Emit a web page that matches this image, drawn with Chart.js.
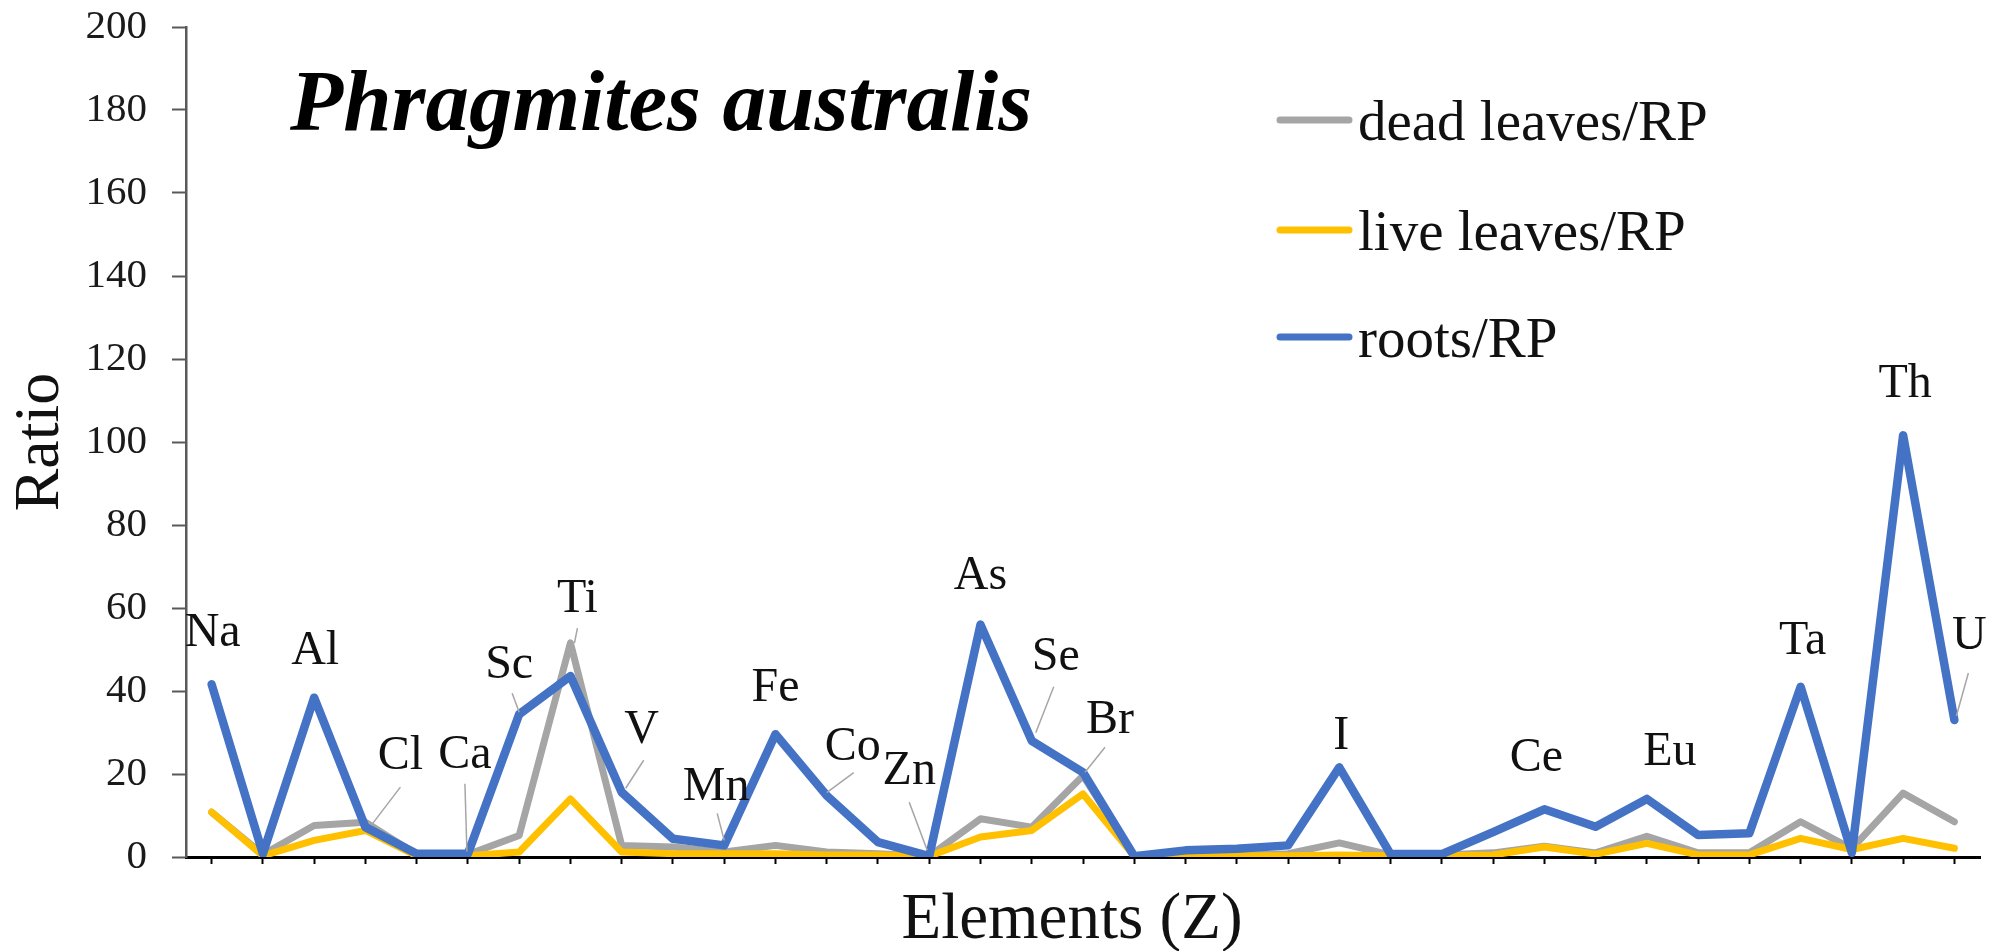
<!DOCTYPE html>
<html>
<head>
<meta charset="utf-8">
<script src="https://cdn.jsdelivr.net/npm/chart.js@4.4.1/dist/chart.umd.min.js"></script>
<style>
  html, body { margin: 0; padding: 0; background: #ffffff; }
  #wrap { width: 2010px; height: 951px; position: relative; }
</style>
</head>
<body>
<div id="wrap"><canvas id="c" width="2010" height="951"></canvas></div>
<script>
// Elements along the x axis (only the named ones carry a label)
const elements = ['Na','','Al','Cl','','Ca','Sc','Ti','V','','Mn','Fe','Co','','Zn','As','Se','Br','','','','','I','','','','Ce','','Eu','','','Ta','','Th','U'];

// Concentration ratios relative to the reference plant (RP)
const deadLeaves = [10.8,0.6,7.6,8.4,0.6,0.6,5.2,51.6,2.8,2.4,1.2,2.8,1.2,0.8,0.2,9.2,7.2,19.6,0.2,0.5,0.5,0.8,3.4,0.5,0.5,1.0,2.6,1.0,5.0,1.0,1.0,8.5,2.0,15.4,8.5];
const liveLeaves = [10.8,0.3,4.0,6.4,0.3,0.3,1.2,14.0,1.2,0.8,0.8,0.8,0.5,0.5,0.2,4.8,6.4,15.2,0.2,0.3,0.3,0.3,0.5,0.3,0.3,0.5,2.4,0.7,3.3,0.5,0.5,4.5,1.8,4.5,2.1];
const roots      = [41.6,0.8,38.4,7.2,0.8,0.8,34.4,43.6,15.6,4.4,2.8,29.6,14.8,3.6,0.2,56.0,28.0,20.4,0.2,1.6,2.0,2.8,21.6,0.7,0.7,6.0,11.5,7.3,14.0,5.3,5.7,41.0,1.0,101.6,33.0];

const seriesNames = ['dead leaves/RP', 'live leaves/RP', 'roots/RP'];
const yTicks = [0, 20, 40, 60, 80, 100, 120, 140, 160, 180, 200];
const chartTitle = 'Phragmites australis';
const xTitle = 'Elements (Z)';
const yTitle = 'Ratio';

const colors = { dead: '#a5a5a5', live: '#ffc000', roots: '#4472c4' };
const serif = '"Liberation Serif", "Times New Roman", serif';

// Label placement relative to the roots point: centre offset and optional leader line
const labelLayout = {
  Na: { dx: 1,  dy: -54 },
  Al: { dx: 1,  dy: -50 },
  Cl: { dx: 35, dy: -74, leader: [35, -40, 6, -2] },
  Ca: { dx: -3, dy: -102, leader: [-3, -70, -1, -2] },
  Sc: { dx: -10, dy: -52, leader: [-7, -21, 0, -2] },
  Ti: { dx: 7,  dy: -80, leader: [7, -48, 4, -33] },
  V:  { dx: 20, dy: -65, leader: [22, -32, 4, -4] },
  Mn: { dx: -8, dy: -61, leader: [-7, -32, 0, -5] },
  Fe: { dx: 0,  dy: -49 },
  Co: { dx: 26, dy: -52, leader: [27, -23, 0, -3] },
  Zn: { dx: -20, dy: -88, leader: [-20, -54, -2, -6] },
  As: { dx: 0,  dy: -52 },
  Se: { dx: 24, dy: -87, leader: [22, -54, 4, -8] },
  Br: { dx: 27, dy: -55, leader: [22, -25, 2, 0] },
  I:  { dx: 2,  dy: -34 },
  Ce: { dx: -8, dy: -54 },
  Eu: { dx: 23, dy: -50 },
  Ta: { dx: 2,  dy: -49 },
  Th: { dx: 2,  dy: -54 },
  U:  { dx: 15, dy: -87, leader: [14, -47, 2, -4] }
};

const decor = {
  id: 'decor',
  afterDatasetsDraw(chart) {
    const ctx = chart.ctx;
    const xs = chart.scales.x, ys = chart.scales.y;
    ctx.save();
    ctx.font = '48px ' + serif;
    ctx.textAlign = 'center';
    ctx.textBaseline = 'alphabetic';
    elements.forEach((name, i) => {
      if (!name) return;
      const lay = labelLayout[name];
      const px = xs.getPixelForValue(i);
      const py = ys.getPixelForValue(roots[i]);
      if (lay.leader) {
        const [x1, y1, x2, y2] = lay.leader;
        ctx.strokeStyle = '#a6a6a6';
        ctx.lineWidth = 1.5;
        ctx.beginPath();
        ctx.moveTo(px + x1, py + y1);
        ctx.lineTo(px + x2, py + y2);
        ctx.stroke();
      }
      ctx.fillStyle = '#111';
      ctx.fillText(name, px + lay.dx, py + lay.dy + 16);
    });
    ctx.restore();
  },
  afterDraw(chart) {
    const ctx = chart.ctx;
    ctx.save();
    // Species name
    ctx.fillStyle = '#000';
    ctx.font = 'italic bold 87px ' + serif;
    ctx.textAlign = 'left';
    ctx.textBaseline = 'alphabetic';
    ctx.fillText(chartTitle, 290, 130);

    // x axis title
    ctx.font = '65px ' + serif;
    ctx.textAlign = 'center';
    ctx.fillStyle = '#111';
    ctx.fillText(xTitle, 1072, 938);

    // Legend
    const rows = [120, 230, 337];
    ctx.font = '57px ' + serif;
    ctx.textAlign = 'left';
    chart.data.datasets
      .slice()
      .sort((a, b) => b.order - a.order)
      .forEach((ds, k) => {
        const y = rows[k];
        ctx.strokeStyle = ds.borderColor;
        ctx.lineWidth = 7;
        ctx.lineCap = 'round';
        ctx.beginPath();
        ctx.moveTo(1280, y);
        ctx.lineTo(1349, y);
        ctx.stroke();
        ctx.fillStyle = '#111';
        ctx.fillText(ds.label, 1358, y + 20);
      });
    ctx.restore();
  }
};

const lineStyle = {
  fill: false,
  tension: 0,
  pointRadius: 0,
  pointHoverRadius: 0,
  borderJoinStyle: 'round',
  borderCapStyle: 'round'
};

new Chart(document.getElementById('c'), {
  type: 'line',
  data: {
    labels: elements,
    datasets: [
      Object.assign({ label: seriesNames[0], data: deadLeaves, borderColor: colors.dead, borderWidth: 7, order: 3 }, lineStyle),
      Object.assign({ label: seriesNames[1], data: liveLeaves, borderColor: colors.live, borderWidth: 7, order: 2 }, lineStyle),
      Object.assign({ label: seriesNames[2], data: roots, borderColor: colors.roots, borderWidth: 8.5, order: 1 }, lineStyle)
    ]
  },
  options: {
    responsive: false,
    animation: false,
    devicePixelRatio: 1,
    layout: { padding: { top: 27, right: 30, bottom: 0, left: 0 } },
    plugins: {
      legend: { display: false },
      tooltip: { enabled: false },
      title: { display: false }
    },
    scales: {
      x: {
        type: 'category',
        offset: true,
        grid: {
          display: true,
          offset: false,
          drawOnChartArea: false,
          drawTicks: true,
          tickLength: 7,
          tickWidth: 2,
          tickColor: '#000'
        },
        border: { display: true, color: '#000', width: 3 },
        ticks: { display: false },
        afterFit(scale) {
          scale.height = 94;
          scale.paddingLeft = 0;
          scale.paddingRight = 0;
        }
      },
      y: {
        min: 0,
        max: 200,
        afterBuildTicks(scale) { scale.ticks = yTicks.map(v => ({ value: v })); },
        grid: {
          display: true,
          drawOnChartArea: false,
          drawTicks: true,
          tickLength: 14,
          tickWidth: 2,
          tickColor: '#595959'
        },
        border: { display: true, color: '#595959', width: 2.5 },
        ticks: {
          padding: 25,
          color: '#1a1a1a',
          font: { family: serif, size: 41 }
        },
        title: {
          display: true,
          text: yTitle,
          color: '#111',
          padding: { top: 3, bottom: 0 },
          font: { family: serif, size: 64 }
        },
        afterFit(scale) {
          scale.width = 186;
          scale.paddingTop = 0;
          scale.paddingBottom = 0;
        }
      }
    }
  },
  plugins: [decor]
});
</script>
</body>
</html>
